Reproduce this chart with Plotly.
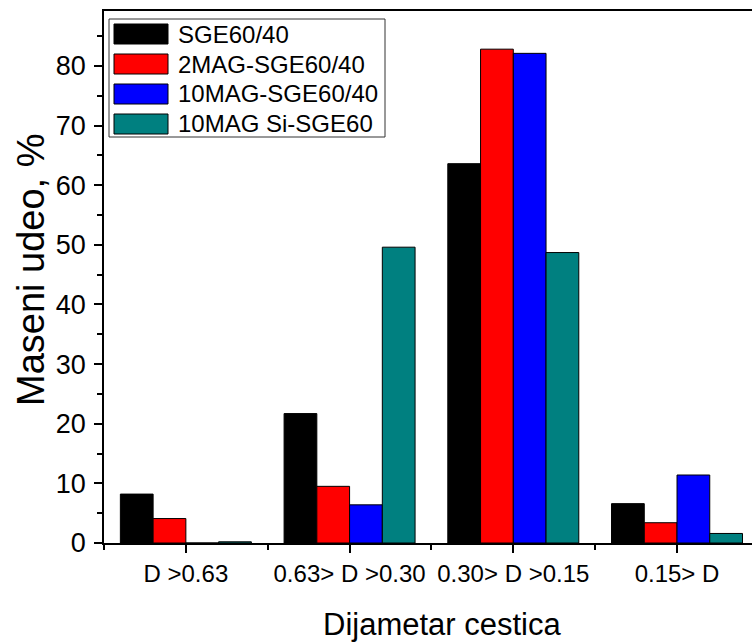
import plotly.graph_objects as go

categories = ["D >0.63", "0.63> D >0.30", "0.30> D >0.15", "0.15> D"]
series_names = ["SGE60/40", "2MAG-SGE60/40", "10MAG-SGE60/40", "10MAG Si-SGE60"]
sge = [8.2, 21.7, 63.6, 6.6]
mag2 = [4.1, 9.5, 82.8, 3.4]
mag10 = [0.0, 6.4, 82.1, 11.4]
mag10si = [0.2, 49.6, 48.7, 1.6]
colors = ["#000000", "#FF0000", "#0000FF", "#008080"]
y_ticks = [0, 10, 20, 30, 40, 50, 60, 70, 80]

W, H = 752, 644
L, T = 104, 11
PR, PB = 752, 543
R, B = W - PR, H - PB
PW, PH = PR - L, PB - T
FONT = "Liberation Sans, Arial, sans-serif"

def px2x(px):
    return (px - L) / PW

def px2y(py):
    return (PB - py) / PH

fig = go.Figure()
xpos = list(range(len(categories)))
for name, vals, col in zip(series_names, [sge, mag2, mag10, mag10si], colors):
    fig.add_trace(go.Bar(
        x=xpos, y=vals, name=name,
        marker=dict(color=col, line=dict(color="#000000", width=1)),
        showlegend=False,
    ))

# manual legend
shapes = []
annotations = []
shapes.append(dict(type="rect", xref="paper", yref="paper",
                   x0=px2x(109), x1=px2x(385), y0=px2y(137), y1=px2y(19),
                   line=dict(color="#333333", width=1), fillcolor="rgba(0,0,0,0)"))
for i, (name, col) in enumerate(zip(series_names, colors)):
    cy = 34 + 30 * i
    shapes.append(dict(type="rect", xref="paper", yref="paper",
                       x0=px2x(114), x1=px2x(168), y0=px2y(cy + 10), y1=px2y(cy - 10),
                       line=dict(color="#000000", width=1), fillcolor=col))
    annotations.append(dict(xref="paper", yref="paper", x=px2x(176), y=px2y(cy),
                            text=name, showarrow=False, xanchor="left", yanchor="middle",
                            font=dict(family=FONT, size=24, color="#000000")))

annotations.append(dict(xref="paper", yref="paper", x=px2x(31), y=px2y(270),
                        text="Maseni udeo, %", showarrow=False, textangle=-90,
                        xanchor="center", yanchor="middle",
                        font=dict(family=FONT, size=38, color="#000000")))
annotations.append(dict(xref="paper", yref="paper", x=px2x(442), y=px2y(643),
                        text="Dijametar cestica", showarrow=False, borderpad=0,
                        xanchor="center", yanchor="bottom",
                        font=dict(family=FONT, size=31, color="#000000")))

fig.update_layout(
    width=W, height=H,
    margin=dict(l=L, r=R, t=T, b=B, autoexpand=False),
    plot_bgcolor="white", paper_bgcolor="white",
    barmode="group", bargap=0.2, bargroupgap=0,
    font=dict(family=FONT, size=24, color="#000000"),
    shapes=shapes, annotations=annotations,
    xaxis=dict(
        range=[-0.5, 3.458], tickmode="array", tickvals=xpos, ticktext=categories,
        ticks="outside", ticklen=8, tickwidth=1.5, tickcolor="#000000",
        showline=True, linecolor="#000000", linewidth=1.5, mirror=True,
        showgrid=False, zeroline=False,
        tickfont=dict(family=FONT, size=24),
        minor=dict(tick0=-0.5, dtick=1, ticks="outside", ticklen=5, tickwidth=1.5,
                   tickcolor="#000000", showgrid=False),
    ),
    yaxis=dict(
        range=[0, 89.2], tickmode="array", tickvals=y_ticks,
        ticks="outside", ticklen=8, tickwidth=1.5, tickcolor="#000000",
        showline=True, linecolor="#000000", linewidth=1.5,
        showgrid=False, zeroline=False,
        tickfont=dict(family=FONT, size=27), ticklabelstandoff=3,
        minor=dict(tick0=5, dtick=10, ticks="outside", ticklen=5, tickwidth=1.5,
                   tickcolor="#000000", showgrid=False),
    ),
)

fig.write_html("out.html", config={"displayModeBar": False},
               post_script="document.body.style.margin='0';")
